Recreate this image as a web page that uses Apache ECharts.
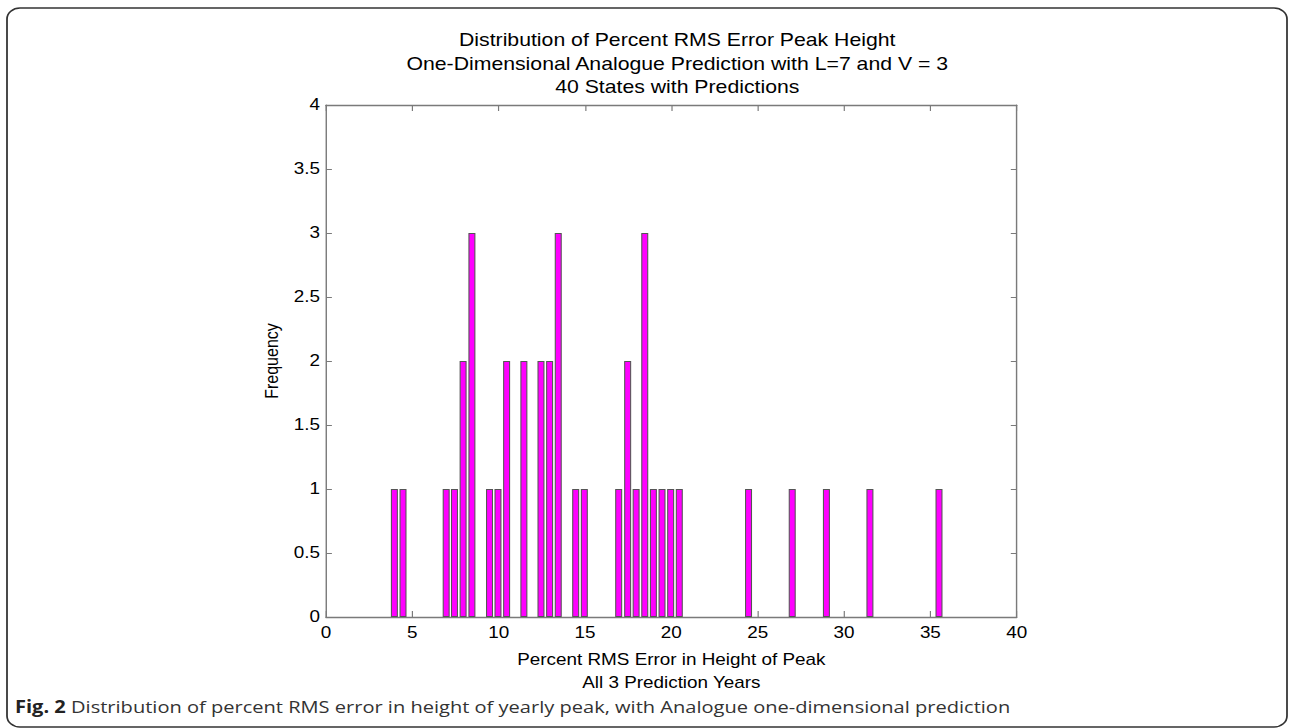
<!DOCTYPE html>
<html>
<head>
<meta charset="utf-8">
<script src="https://cdn.jsdelivr.net/npm/echarts@6/dist/echarts.min.js"></script>
<style>
html,body{margin:0;padding:0;background:#fff;overflow:hidden;width:1290px;height:728px;}
#chart{height:728px;transform-origin:0 0;}
</style>
</head>
<body>
<div id="chart"></div>
<script>
// Bin centres (percent RMS error) and frequencies
const binCenters = [3.96, 4.46, 6.96, 7.44, 7.94, 8.45, 9.47, 9.96, 10.46, 11.46,
  12.45, 12.95, 13.45, 14.46, 14.96, 16.95, 17.47, 17.96, 18.46, 18.96,
  19.46, 19.96, 20.46, 24.47, 27.0, 28.98, 31.5, 35.5];
const frequencies = [1, 1, 1, 1, 2, 3, 1, 1, 2, 2,
  2, 2, 3, 1, 1, 1, 2, 1, 3, 1,
  1, 1, 1, 1, 1, 1, 1, 1];
const xTicks = [0, 5, 10, 15, 20, 25, 30, 35, 40];
const yTicks = [0, 0.5, 1, 1.5, 2, 2.5, 3, 3.5, 4];
const titleLines = ['Distribution of Percent RMS Error Peak Height',
  'One-Dimensional Analogue Prediction with L=7 and V = 3',
  '40 States with Predictions'];
const xNameLines = ['Percent RMS Error in Height of Peak', 'All 3 Prediction Years'];
const yName = 'Frequency';
const captionBold = 'Fig. 2';
const captionText = ' Distribution of percent RMS error in height of yearly peak, with Analogue one-dimensional prediction';

// The reference figure is stretched horizontally; reproduce via a CSS scaleX.
const S = 1.18;
const W = 1290 / S;
const el = document.getElementById('chart');
el.style.width = W + 'px';
el.style.transform = 'scaleX(' + S + ')';

const chart = echarts.init(el, null, {renderer: 'svg', width: W, height: 728});
const axisGray = '#7a7a7a';
const font = 'Liberation Sans, Arial, Helvetica, sans-serif';
const gl = 326 / S, gr = 1016.7 / S, gt = 105, gb = 617;
const cx = (gl + gr) / 2;
const data = binCenters.map((x, i) => [x, frequencies[i]]);

const xAxisBase = {
  type: 'value', min: xTicks[0], max: xTicks[xTicks.length - 1], interval: 5,
  axisLine: {show: true, onZero: false, lineStyle: {color: axisGray, width: 1.4}},
  axisTick: {show: true, inside: true, length: 6, lineStyle: {color: axisGray}},
  splitLine: {show: false}
};
const yAxisBase = {
  type: 'value', min: yTicks[0], max: yTicks[yTicks.length - 1], interval: 0.5,
  axisLine: {show: true, onZero: false, lineStyle: {color: axisGray, width: 1.2}},
  axisTick: {show: true, inside: true, length: 5, lineStyle: {color: axisGray}},
  splitLine: {show: false}
};

chart.setOption({
  animation: false,
  backgroundColor: '#fff',
  grid: {left: gl, right: W - gr, top: gt, bottom: 728 - gb, containLabel: false},
  title: {
    text: titleLines.join('\n'),
    left: cx, top: 23, textAlign: 'center',
    textStyle: {fontFamily: font, fontSize: 18, fontWeight: 'normal', color: '#000', lineHeight: 23.5}
  },
  xAxis: [
    Object.assign({}, xAxisBase, {position: 'bottom',
      axisLabel: {color: '#000', fontFamily: font, fontSize: 16, margin: 8}}),
    Object.assign({}, xAxisBase, {position: 'top', axisLabel: {show: false}})
  ],
  yAxis: [
    Object.assign({}, yAxisBase, {position: 'left',
      name: yName, nameLocation: 'middle', nameGap: 33,
      nameTextStyle: {color: '#000', fontFamily: font, fontSize: 16},
      axisLabel: {color: '#000', fontFamily: font, fontSize: 16, margin: 5}}),
    Object.assign({}, yAxisBase, {position: 'right', axisLabel: {show: false}})
  ],
  series: [{
    type: 'bar', xAxisIndex: 0, yAxisIndex: 0,
    data: data, barWidth: 7 / S,
    itemStyle: {color: '#ff00ff', borderColor: '#555', borderWidth: 0.9}
  }],
  graphic: [
    {type: 'rect', shape: {x: 7 / S, y: 8, width: 1280 / S, height: 719, r: 11}, silent: true,
     style: {fill: 'none', stroke: '#333', lineWidth: 1.5}},
    {type: 'text', x: cx, y: 660, silent: true,
     style: {text: xNameLines[0], textAlign: 'center', textVerticalAlign: 'middle', fill: '#000', font: '16px ' + font}},
    {type: 'text', x: cx, y: 683, silent: true,
     style: {text: xNameLines[1], textAlign: 'center', textVerticalAlign: 'middle', fill: '#000', font: '16px ' + font}},
    {type: 'text', x: 15 / S, y: 706, silent: true,
     style: {
       text: '{b|' + captionBold + '}{n|' + captionText + '}',
       textVerticalAlign: 'middle',
       rich: {
         b: {fontFamily: 'Open Sans', fontWeight: 'bold', fontSize: 17, fill: '#222'},
         n: {fontFamily: 'Open Sans', fontSize: 17, fill: '#333'}
       }
     }}
  ]
});
</script>
</body>
</html>
